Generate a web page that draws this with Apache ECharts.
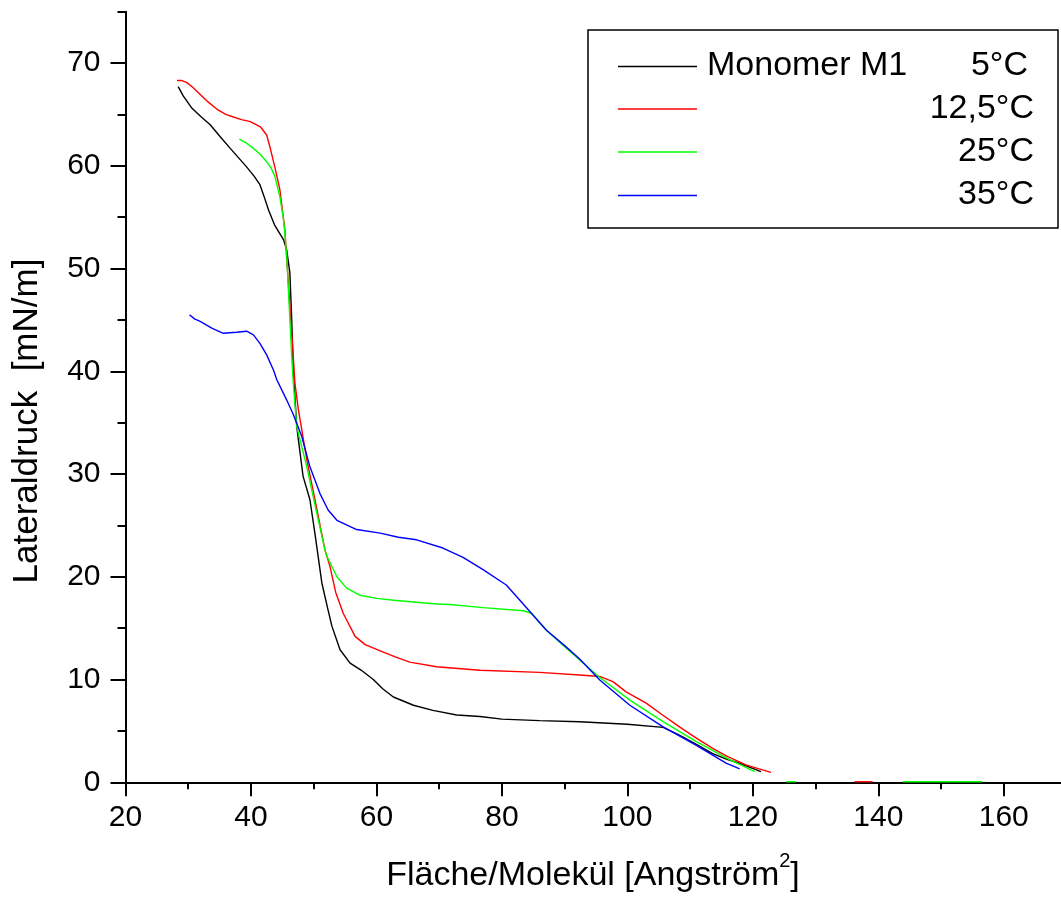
<!DOCTYPE html>
<html>
<head>
<meta charset="utf-8">
<script src="https://cdn.jsdelivr.net/npm/echarts@6/dist/echarts.min.js"></script>
<style>
html,body{margin:0;padding:0;background:#fff;}
#chart{width:1061px;height:900px;}
</style>
</head>
<body>
<div id="chart"></div>
<script>
// ---- data ----
var xMajorTicks = [20, 40, 60, 80, 100, 120, 140, 160];
var xMinorTicks = [30, 50, 70, 90, 110, 130, 150];
var yMajorTicks = [0, 10, 20, 30, 40, 50, 60, 70];
var yMinorTicks = [5, 15, 25, 35, 45, 55, 65, 75];

var seriesNames = ['5°C', '12,5°C', '25°C', '35°C'];
var legendTitle = 'Monomer M1';
var xTitle = 'Fläche/Molekül [Angström';
var xTitleSup = '2';
var yTitle = 'Lateraldruck  [mN/m]';

var black5 = [[28.4,67.7],[29.2,66.8],[30.6,65.6],[32.0,64.8],[33.5,64.0],[35.0,62.9],[36.7,61.7],[38.0,60.8],[39.3,59.9],[40.5,59.0],[41.4,58.2],[42.1,57.0],[42.8,55.7],[43.8,54.2],[45.2,52.8],[45.7,51.8],[46.2,49.6],[46.5,45.0],[46.75,40.1],[47.3,34.6],[48.3,29.8],[49.4,27.5],[50.2,24.2],[51.3,19.4],[52.2,17.0],[52.9,15.2],[54.2,12.9],[55.8,11.6],[57.6,10.9],[59.5,10.0],[61.0,9.1],[62.7,8.3],[65.9,7.5],[69.0,7.0],[72.8,6.55],[76.5,6.4],[80.0,6.15],[86.0,6.0],[92.4,5.9],[100.0,5.65],[105.7,5.35],[108.3,4.6],[111.0,3.7],[113.6,2.8],[116.0,2.2],[117.9,1.85],[121.3,1.03]];

var red125 = [[28.2,68.3],[29.0,68.3],[29.8,68.1],[30.8,67.6],[32.0,66.9],[33.0,66.3],[34.6,65.5],[36.0,65.0],[37.2,64.75],[38.5,64.5],[39.9,64.3],[41.5,63.8],[42.5,63.0],[43.0,61.9],[43.8,59.9],[44.6,57.7],[45.4,53.8],[46.2,46.3],[46.75,41.4],[47.0,38.9],[47.55,36.3],[48.9,31.4],[50.2,27.5],[51.8,22.6],[52.6,21.0],[53.5,18.5],[54.7,16.45],[56.6,14.2],[58.2,13.4],[60.6,12.8],[63.0,12.2],[65.3,11.7],[69.6,11.25],[76.5,10.9],[86.0,10.7],[92.4,10.45],[95.6,10.3],[97.7,9.8],[99.8,8.8],[103.0,7.7],[105.5,6.6],[108.3,5.4],[111.0,4.3],[113.6,3.3],[116.0,2.5],[118.9,1.7],[121.0,1.3],[122.9,0.97]];
var red125Tail = [[136.2,0.05],[139.1,0.05]];

var green25 = [[38.15,62.6],[39.3,62.2],[40.4,61.7],[41.5,61.1],[42.5,60.4],[43.2,59.8],[43.8,59.0],[44.6,57.0],[45.2,54.75],[45.7,51.2],[46.1,46.3],[46.5,41.4],[46.75,38.85],[47.3,34.6],[48.9,30.7],[50.2,27.0],[51.8,22.6],[52.1,22.0],[53.7,20.0],[55.25,18.9],[57.4,18.2],[60.0,17.9],[63.2,17.7],[69.6,17.35],[71.7,17.3],[77.0,17.0],[83.4,16.7],[84.7,16.45],[87.1,14.8],[90.0,13.2],[92.4,11.9],[95.6,10.2],[100.4,8.0],[105.7,5.9],[111.0,3.95],[116.3,2.2],[120.3,1.03]];
var green25TailA = [[125.3,0.05],[126.9,0.05]];
var green25TailB = [[143.9,0.05],[156.6,0.05]];

var blue35 = [[30.2,45.5],[31.0,45.1],[31.9,44.85],[33.75,44.2],[35.6,43.7],[37.7,43.8],[39.3,43.9],[40.4,43.55],[41.45,42.7],[42.5,41.6],[43.6,40.1],[44.1,39.2],[45.7,37.2],[46.75,35.8],[48.1,33.65],[49.4,30.7],[51.0,28.1],[52.3,26.5],[53.7,25.5],[56.85,24.6],[60.6,24.25],[63.5,23.85],[66.4,23.6],[70.6,22.8],[73.8,21.9],[77.0,20.7],[80.7,19.2],[82.3,18.1],[84.7,16.45],[87.1,14.8],[90.0,13.3],[92.4,12.0],[95.6,9.96],[100.4,7.5],[105.7,5.4],[111.0,3.6],[115.8,1.85],[116.8,1.6],[117.9,1.3]];

var colors = ['#000000', '#ff0000', '#00ff00', '#0000ff'];

// ---- chart ----
var FONT = '"Liberation Sans", Arial, sans-serif';
var chart = echarts.init(document.getElementById('chart'), null, {renderer: 'canvas'});

function lineSeries(data, color) {
  return {
    type: 'line', data: data, xAxisIndex: 0, yAxisIndex: 0,
    showSymbol: false, symbol: 'none', smooth: false,
    lineStyle: {color: color, width: 1.4}, itemStyle: {color: color},
    z: 3, animation: false
  };
}

var axisLineStyle = {color: '#000', width: 2};

var legendGraphics = [
  {type: 'rect', shape: {x: 588, y: 30, width: 470, height: 198},
   style: {fill: '#fff', stroke: '#000', lineWidth: 1.5}, z: 10}
];
var rowY = [66.5, 109, 152, 195.5];
var textY = [65.5, 108.5, 152, 195];
var textRight = [1028, 1034, 1034, 1034];
for (var i = 0; i < seriesNames.length; i++) {
  legendGraphics.push({type: 'line', shape: {x1: 618, y1: rowY[i], x2: 697, y2: rowY[i]},
    style: {stroke: colors[i], lineWidth: 1.4}, z: 11});
  legendGraphics.push({type: 'text', x: textRight[i], y: textY[i],
    style: {text: seriesNames[i], fill: '#000', font: '34px ' + FONT, align: 'right', verticalAlign: 'middle'}, z: 11});
}
legendGraphics.push({type: 'text', x: 707, y: textY[0],
  style: {text: legendTitle, fill: '#000', font: '34px ' + FONT, align: 'left', verticalAlign: 'middle'}, z: 11});

var titleGraphics = [
  {type: 'text', x: 593, y: 876,
   style: {text: xTitle + '{sup|' + xTitleSup + '}]', fill: '#000', font: '34px ' + FONT,
           align: 'center', verticalAlign: 'middle',
           rich: {sup: {fontSize: 20, fontFamily: FONT, fill: '#000', padding: [0, 0, 30, 0]}}}},
  {type: 'text', x: 27.5, y: 421, rotation: Math.PI / 2,
   style: {text: yTitle, fill: '#000', font: '35px ' + FONT, align: 'center', verticalAlign: 'middle'}}
];

var option = {
  backgroundColor: '#ffffff',
  animation: false,
  grid: {left: 125.5, right: -5.5, top: 11.7, bottom: 117.7, outerBoundsMode: 'none', containLabel: false},
  xAxis: [
    {type: 'value', min: 20, max: 170, position: 'bottom', offset: 0,
     axisLine: {show: true, onZero: false, lineStyle: axisLineStyle},
     axisTick: {show: true, inside: false, length: 14, customValues: xMajorTicks, lineStyle: axisLineStyle},
     axisLabel: {show: true, customValues: xMajorTicks, margin: 20, fontSize: 30, color: '#000', fontFamily: FONT},
     splitLine: {show: false}},
    {type: 'value', min: 20, max: 170, position: 'bottom', offset: 0,
     axisLine: {show: false},
     axisTick: {show: true, inside: false, length: 7, customValues: xMinorTicks, lineStyle: axisLineStyle},
     axisLabel: {show: false},
     splitLine: {show: false}}
  ],
  yAxis: [
    {type: 'value', min: 0, max: 75, position: 'left', offset: 0,
     axisLine: {show: true, onZero: false, lineStyle: axisLineStyle},
     axisTick: {show: true, inside: false, length: 15, customValues: yMajorTicks, lineStyle: axisLineStyle},
     axisLabel: {show: true, customValues: yMajorTicks, margin: 25, fontSize: 30, color: '#000', fontFamily: FONT},
     splitLine: {show: false}},
    {type: 'value', min: 0, max: 75, position: 'left', offset: 0,
     axisLine: {show: false},
     axisTick: {show: true, inside: false, length: 8, customValues: yMinorTicks, lineStyle: axisLineStyle},
     axisLabel: {show: false},
     splitLine: {show: false}}
  ],
  series: [
    lineSeries(black5, colors[0]),
    lineSeries(red125, colors[1]),
    lineSeries(red125Tail, colors[1]),
    lineSeries(green25, colors[2]),
    lineSeries(green25TailA, colors[2]),
    lineSeries(green25TailB, colors[2]),
    lineSeries(blue35, colors[3])
  ],
  graphic: legendGraphics.concat(titleGraphics)
};
chart.setOption(option);
</script>
</body>
</html>
